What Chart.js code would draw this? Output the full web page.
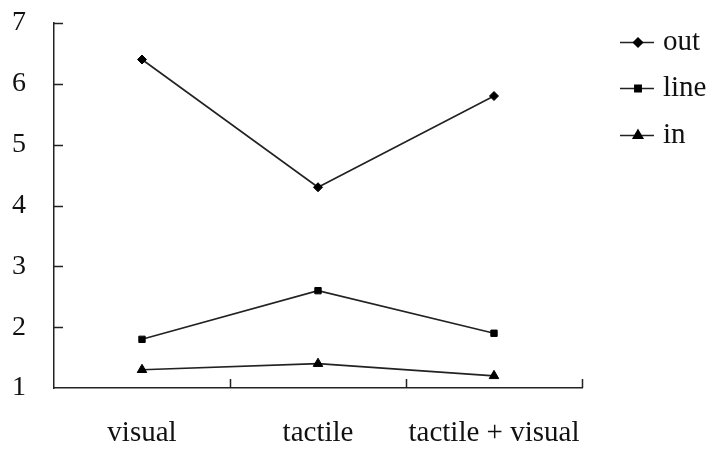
<!DOCTYPE html>
<html>
<head>
<meta charset="utf-8">
<script src="https://cdn.jsdelivr.net/npm/chart.js@4/dist/chart.umd.min.js"></script>
<style>
  html, body { margin: 0; padding: 0; background: #fff; }
  #wrap { width: 709px; height: 450px; position: relative; }
</style>
</head>
<body>
<div id="wrap"><canvas id="c" width="709" height="450"></canvas></div>
<script>
const categories = ['visual', 'tactile', 'tactile + visual'];
const outValues = [6.4, 4.3, 5.8];
const lineValues = [1.8, 2.6, 1.9];
const inValues = [1.3, 1.4, 1.2];
const yTicks = [1, 2, 3, 4, 5, 6, 7];
const seriesNames = ['out', 'line', 'in'];

const FONT = '"Liberation Serif", "Times New Roman", serif';
const INK = '#111';

const inwardTicks = {
  id: 'inwardTicks',
  afterDraw(chart) {
    const ctx = chart.ctx;
    const x = chart.scales.x, y = chart.scales.y;
    ctx.save();
    ctx.strokeStyle = '#222';
    ctx.lineWidth = 1.5;
    ctx.beginPath();
    yTicks.forEach(v => {
      if (v === yTicks[0]) return;
      const py = Math.round(y.getPixelForValue(v)) + 0.5;
      ctx.moveTo(x.left, py);
      ctx.lineTo(x.left + 9, py);
    });
    for (let i = 0; i < categories.length; i++) {
      const px = Math.round(x.getPixelForValue(i + 0.5)) + 0.5;
      ctx.moveTo(px, y.bottom);
      ctx.lineTo(px, y.bottom - 9);
    }
    ctx.stroke();
    ctx.restore();
  }
};

const customLegend = {
  id: 'customLegend',
  afterDraw(chart) {
    const ctx = chart.ctx;
    const rows = [42, 88, 135];
    ctx.save();
    chart.data.datasets.forEach((ds, i) => {
      const yy = rows[i];
      ctx.strokeStyle = ds.borderColor;
      ctx.lineWidth = 1.5;
      ctx.beginPath();
      ctx.moveTo(620, yy + 0.5);
      ctx.lineTo(654, yy + 0.5);
      ctx.stroke();
      ctx.fillStyle = ds.pointBackgroundColor;
      ctx.strokeStyle = ds.pointBorderColor;
      Chart.helpers.drawPoint(ctx, {
        pointStyle: ds.pointStyle,
        radius: ds.pointRadius,
        rotation: 0,
        borderWidth: 1
      }, 638, yy + 0.5);
      ctx.fillStyle = INK;
      ctx.font = '29px ' + FONT;
      ctx.textBaseline = 'middle';
      ctx.textAlign = 'left';
      ctx.fillText(ds.label, 663, yy);
    });
    ctx.restore();
  }
};

function mk(label, data, style, r) {
  return {
    label, data,
    borderColor: '#222',
    borderWidth: 1.6,
    pointStyle: style,
    pointRadius: r,
    pointHoverRadius: r,
    pointBackgroundColor: '#000',
    pointBorderColor: '#000',
    pointBorderWidth: 1,
    tension: 0,
    fill: false
  };
}

new Chart(document.getElementById('c'), {
  type: 'line',
  data: {
    labels: categories,
    datasets: [
      mk(seriesNames[0], outValues, 'rectRot', 4.5),
      mk(seriesNames[1], lineValues, 'rect', 4.5),
      mk(seriesNames[2], inValues, 'triangle', 5.5)
    ]
  },
  options: {
    responsive: false,
    animation: false,
    devicePixelRatio: 1,
    layout: { padding: { top: 23, right: 127, left: 0, bottom: 0 } },
    plugins: {
      legend: { display: false },
      tooltip: { enabled: false }
    },
    scales: {
      x: {
        type: 'category',
        offset: true,
        grid: { offset: true, drawOnChartArea: false, drawTicks: false },
        border: { display: true, color: '#222', width: 1.5 },
        ticks: { color: INK, font: { family: FONT, size: 29 }, padding: 28, maxRotation: 0, autoSkip: false },
        afterFit(s) { s.height = 62; s.paddingLeft = 0; s.paddingRight = 0; }
      },
      y: {
        min: 1, max: 7,
        afterBuildTicks(s) { s.ticks = yTicks.map(v => ({ value: v })); },
        grid: { drawOnChartArea: false, drawTicks: false },
        border: { display: true, color: '#222', width: 1.5 },
        ticks: { color: INK, font: { family: FONT, size: 28 }, padding: 28 },
        afterFit(s) { s.width = 54; s.paddingTop = 0; s.paddingBottom = 0; }
      }
    }
  },
  plugins: [inwardTicks, customLegend]
});
</script>
</body>
</html>
